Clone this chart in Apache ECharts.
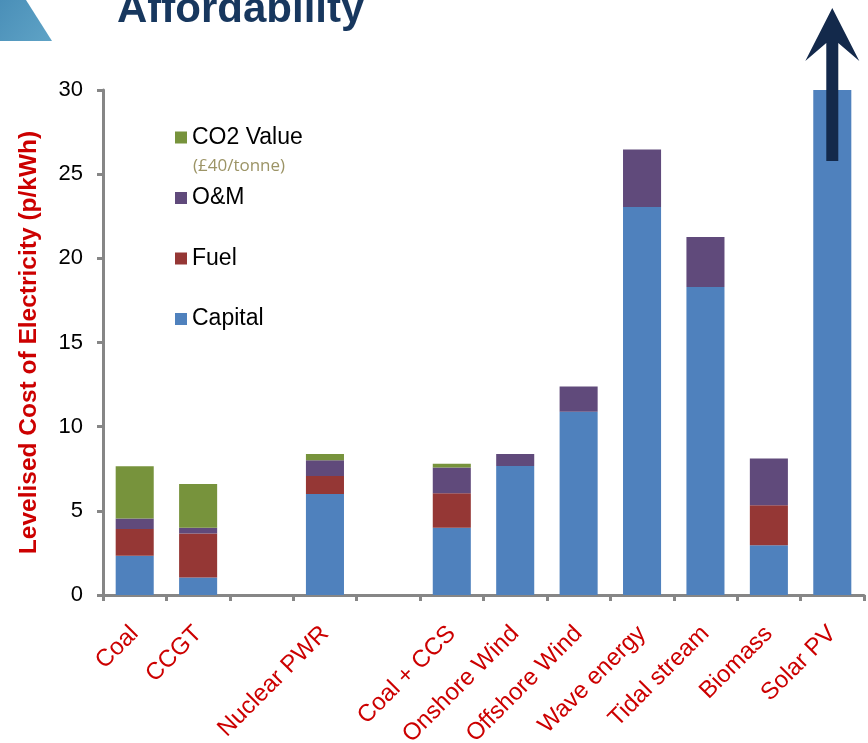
<!DOCTYPE html>
<html>
<head>
<meta charset="utf-8">
<title>Affordability</title>
<script src="https://cdn.jsdelivr.net/npm/echarts@6/dist/echarts.min.js"></script>
<style>
  html, body { margin: 0; padding: 0; background: #ffffff; }
  #chart { width: 868px; height: 743px; }
</style>
</head>
<body>
<div id="chart"></div>
<script>
// Levelised cost of electricity by technology, p/kWh (blank slots separate groups)
const categories = ['Coal', 'CCGT', ' ', 'Nuclear PWR', '  ', 'Coal + CCS', 'Onshore Wind',
  'Offshore Wind', 'Wave energy', 'Tidal stream', 'Biomass', 'Solar PV'];
const capital = [2.33, 1.04, null, 6.0, null, 4.0, 7.67, 10.88, 23.05, 18.3, 2.95, 30];
const fuel    = [1.59, 2.62, null, 1.07, null, 2.05, null, null, null, null, 2.38, null];
const om      = [0.63, 0.34, null, 0.93, null, 1.53, 0.7, 1.5, 3.41, 2.96, 2.78, null];
const co2     = [3.1, 2.6, null, 0.38, null, 0.22, null, null, null, null, null, null];
const yTicks  = { min: 0, max: 30, interval: 5 };

const chart = echarts.init(document.getElementById('chart'), null, { renderer: 'canvas' });

const colors = { capital: '#4F81BD', fuel: '#953735', om: '#604A7B', co2: '#77933C' };
const axisGrey = '#868686';
const red = '#CC0000';
const font = 'Liberation Sans, Arial, sans-serif';

function barSeries(name, data, color) {
  return {
    name: name,
    type: 'bar',
    stack: 'cost',
    data: data,
    barWidth: '60%',
    itemStyle: { color: color },
    emphasis: { disabled: true }
  };
}

const option = {
  animation: false,
  textStyle: { fontFamily: font },
  grid: {
    left: 103, right: 4, top: 90, bottom: 148,
    containLabel: false,
    outerBoundsMode: 'none'
  },
  legend: {
    orient: 'vertical',
    left: 170,
    top: 121,
    itemWidth: 12,
    itemHeight: 12,
    itemGap: 37.5,
    icon: 'rect',
    data: ['CO2 Value', 'O&M', 'Fuel', 'Capital'],
    textStyle: { fontSize: 23, color: '#000000', lineHeight: 23, padding: [0, 0, 0, 0] },
    selectedMode: false
  },
  xAxis: {
    type: 'category',
    data: categories,
    axisLine: { show: true, lineStyle: { color: axisGrey, width: 3 } },
    axisTick: { show: true, length: 6, lineStyle: { color: axisGrey, width: 3 } },
    axisLabel: {
      rotate: 45,
      interval: 0,
      margin: 35,
      fontSize: 24,
      color: red
    }
  },
  yAxis: {
    type: 'value',
    min: yTicks.min,
    max: yTicks.max,
    interval: yTicks.interval,
    name: 'Levelised Cost of Electricity (p/kWh)',
    nameLocation: 'middle',
    nameGap: 61,
    nameTextStyle: { fontSize: 24.5, fontWeight: 'bold', color: red },
    axisLine: { show: true, lineStyle: { color: axisGrey, width: 3 } },
    axisTick: { show: true, length: 6, lineStyle: { color: axisGrey, width: 3 } },
    axisLabel: { fontSize: 22, color: '#000000', margin: 20 },
    splitLine: { show: false }
  },
  series: [
    barSeries('Capital', capital, colors.capital),
    barSeries('Fuel', fuel, colors.fuel),
    barSeries('O&M', om, colors.om),
    barSeries('CO2 Value', co2, colors.co2)
  ]
};

chart.setOption(option);

// Decorations: header shape, title, carbon price note, off-scale arrow on Solar PV
const cx = chart.convertToPixel({ xAxisIndex: 0 }, 'Solar PV');
chart.setOption({
  graphic: [
    {
      type: 'polygon',
      shape: { points: [[0, 0], [26, 0], [52, 41], [0, 41]] },
      style: {
        fill: new echarts.graphic.LinearGradient(0, 0, 1, 1, [
          { offset: 0, color: '#4A8FB8' },
          { offset: 1, color: '#5FA3C6' }
        ])
      },
      silent: true
    },
    {
      type: 'text',
      left: 117,
      top: -11,
      style: {
        text: 'Affordability',
        fontSize: 42,
        fontWeight: 'bold',
        fill: '#17375E',
        fontFamily: font
      },
      silent: true
    },
    {
      type: 'text',
      left: 193,
      top: 158,
      style: {
        text: '(£40/tonne)',
        fontSize: 17,
        fill: '#9C9466',
        fontFamily: 'Open Sans, Liberation Sans, sans-serif'
      },
      silent: true
    },
    {
      type: 'polygon',
      shape: {
        points: [
          [cx, 8], [cx + 27, 61], [cx + 6, 43], [cx + 6, 161],
          [cx - 6, 161], [cx - 6, 43], [cx - 27, 61]
        ]
      },
      style: { fill: '#13294B' },
      z: 100,
      silent: true
    }
  ]
});
</script>
</body>
</html>
